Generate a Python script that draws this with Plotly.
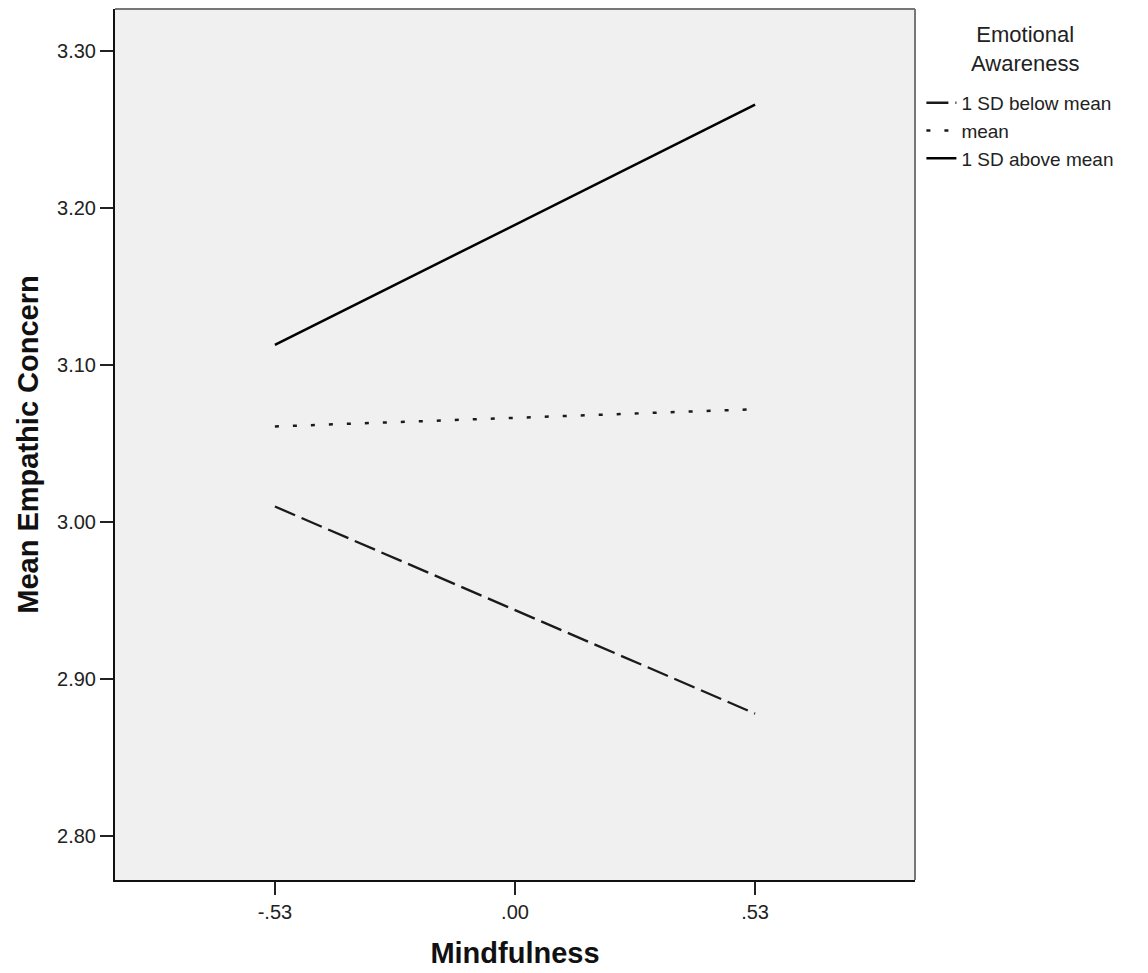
import plotly.graph_objects as go

x_vals = [-0.53, 0.53]
x_ticks = [-0.53, 0.0, 0.53]
x_ticklabels = ["-.53", ".00", ".53"]
y_ticks = [2.80, 2.90, 3.00, 3.10, 3.20, 3.30]
y_ticklabels = ["2.80", "2.90", "3.00", "3.10", "3.20", "3.30"]

series_names = ["1 SD below mean", "mean", "1 SD above mean"]
below_vals = [3.010, 2.878]
mean_vals = [3.061, 3.072]
above_vals = [3.113, 3.266]

FONT = "Liberation Sans, Arial, sans-serif"

fig = go.Figure()
fig.add_trace(go.Scatter(x=x_vals, y=below_vals, mode="lines", name=series_names[0],
                         line=dict(color="#1a1a1a", width=2.3, dash="22px,7px")))
fig.add_trace(go.Scatter(x=x_vals, y=mean_vals, mode="lines", name=series_names[1],
                         line=dict(color="#1a1a1a", width=2.5, dash="4px,14px")))
fig.add_trace(go.Scatter(x=x_vals, y=above_vals, mode="lines", name=series_names[2],
                         line=dict(color="#000000", width=2.5)))

fig.update_layout(
    width=1148, height=973,
    margin=dict(l=115, r=233, t=9, b=93),
    paper_bgcolor="white",
    plot_bgcolor="#F0F0F0",
    font=dict(family=FONT, size=20, color="#222222"),
    showlegend=True,
    legend=dict(
        x=1.008, xanchor="left", y=0.914, yanchor="top",
        bgcolor="rgba(0,0,0,0)", borderwidth=0,
        font=dict(family=FONT, size=19, color="#222222"),
        tracegroupgap=0, itemwidth=30,
    ),
    annotations=[
        dict(text="Emotional<br>Awareness", xref="paper", yref="paper",
             x=1.138, y=0.954, xanchor="center", yanchor="middle", showarrow=False,
             align="center", font=dict(family=FONT, size=22, color="#222222")),
    ],
)

fig.update_xaxes(
    range=[-0.883, 0.883], tickvals=x_ticks, ticktext=x_ticklabels,
    ticks="outside", ticklen=13, tickwidth=2, tickcolor="#222222",
    showgrid=False, zeroline=False,
    showline=True, linecolor="#111111", linewidth=2, mirror=False,
    title=dict(text="<b>Mindfulness</b>", font=dict(family=FONT, size=29, color="#111111"), standoff=21),
    tickfont=dict(family=FONT, size=20, color="#222222"),
)
fig.update_yaxes(
    range=[2.772, 3.327], tickvals=y_ticks, ticktext=y_ticklabels,
    ticks="outside", ticklen=13, tickwidth=2, tickcolor="#222222",
    showgrid=False, zeroline=False,
    showline=True, linecolor="#111111", linewidth=2, mirror=False,
    title=dict(text="<b>Mean Empathic Concern</b>", font=dict(family=FONT, size=29, color="#111111"), standoff=10),
    tickfont=dict(family=FONT, size=20, color="#222222"),
)

# top and right frame (gray)
fig.add_shape(type="line", xref="paper", yref="paper", x0=0, x1=1, y0=1, y1=1,
              line=dict(color="#777777", width=2))
fig.add_shape(type="line", xref="paper", yref="paper", x0=1, x1=1, y0=0, y1=1,
              line=dict(color="#777777", width=2))

fig.write_html("out.html")
